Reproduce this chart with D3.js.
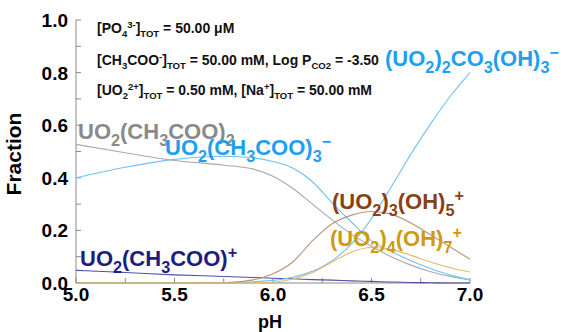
<!DOCTYPE html>
<html>
<head>
<meta charset="utf-8">
<script src="https://cdn.jsdelivr.net/npm/d3@7"></script>
<style>
  body { margin: 0; background: #fff; }
  text { font-family: 'Liberation Sans', Arial, sans-serif; font-weight: bold; }
</style>
</head>
<body>
<div id="chart"></div>
<script>
// pH grid shared by every species
const pH = [5.0, 5.25, 5.5, 5.75, 5.9, 6.0, 6.1, 6.2, 6.3, 6.4, 6.5, 6.6, 6.7, 6.8, 6.9, 7.0];

// fractions
const acetate2 = [0.527, 0.495, 0.466, 0.448, 0.433, 0.406, 0.36, 0.30, 0.24, 0.185, 0.14, 0.10, 0.068, 0.043, 0.025, 0.012];
const acetate3 = [0.40, 0.44, 0.47, 0.482, 0.476, 0.462, 0.437, 0.385, 0.305, 0.23, 0.16, 0.12, 0.085, 0.055, 0.03, 0.012];
const acetate1 = [0.048, 0.04, 0.031, 0.025, 0.021, 0.018, 0.016, 0.013, 0.011, 0.008, 0.006, 0.004, 0.002, 0.001, 0.0, 0.0];
const carbonate = [0, 0, 0, 0.001, 0.005, 0.01, 0.022, 0.045, 0.085, 0.15, 0.245, 0.365, 0.49, 0.605, 0.71, 0.80];
const trimer = [0, 0, 0, 0.001, 0.012, 0.035, 0.08, 0.16, 0.225, 0.258, 0.272, 0.262, 0.228, 0.183, 0.137, 0.09];
const tetramer = [0, 0, 0, 0, 0, 0.003, 0.015, 0.04, 0.08, 0.118, 0.135, 0.127, 0.105, 0.08, 0.058, 0.042];

const xTicks = [5.0, 5.5, 6.0, 6.5, 7.0];
const yTicks = [0.0, 0.2, 0.4, 0.6, 0.8, 1.0];

const species = [
  { values: acetate2, line: '#a9a9a9', color: '#8a8a8a', label: 'UO_{2}(CH_{3}COO)_{2}', x: 78, y: 139 },
  { values: acetate3, line: '#72c2ee', color: '#1e9ff0', label: 'UO_{2}(CH_{3}COO)_{3}^{\u2212}', x: 165, y: 155 },
  { values: acetate1, line: '#5050a8', color: '#1c1c82', label: 'UO_{2}(CH_{3}COO)^{+}', x: 80, y: 266 },
  { values: carbonate, line: '#72c2ee', color: '#1e9ff0', label: '(UO_{2})_{2}CO_{3}(OH)_{3}^{\u2212}', x: 385, y: 66 },
  { values: trimer, line: '#bb9378', color: '#8b3f12', label: '(UO_{2})_{3}(OH)_{5}^{+}', x: 332, y: 209 },
  { values: tetramer, line: '#e2bb66', color: '#cf9a12', label: '(UO_{2})_{4}(OH)_{7}^{+}', x: 330, y: 246 }
];

const notes = [
  { text: '[PO_{4}^{3-}]_{TOT} = 50.00 \u03bcM', y: 33 },
  { text: '[CH_{3}COO^{-}]_{TOT} = 50.00 mM, Log P_{CO2} = -3.50', y: 65 },
  { text: '[UO_{2}^{2+}]_{TOT} = 0.50 mM, [Na^{+}]_{TOT} = 50.00 mM', y: 95 }
];

const leftMargin = 76;
const topMargin = 20;
const svgWidth = 394;
const svgHeight = 263;

const svg = d3
  .select('#chart')
  .append('svg')
  .attr('width', 563)
  .attr('height', 332);

const g = svg
  .append('g')
  .attr('transform', 'translate(' + leftMargin + ',' + topMargin + ')');

const x = d3.scaleLinear().domain([5, 7]).range([0, svgWidth]);
const y = d3.scaleLinear().domain([0, 1]).range([svgHeight, 0]);

// write a formula with _{sub} and ^{sup} parts as tspans
function chem(sel, str, size, ratio) {
  const re = /(_|\^)\{([^}]*)\}|([^_^]+)/g;
  let m;
  let shift = 0;
  while ((m = re.exec(str)) !== null) {
    let target = 0;
    let fs = size;
    let txt = m[3];
    if (m[1] === '_') { target = size * 0.3; fs = size * ratio; txt = m[2]; }
    if (m[1] === '^') { target = -size * 0.38; fs = size * ratio; txt = m[2]; }
    sel.append('tspan')
      .attr('dy', target - shift)
      .style('font-size', fs + 'px')
      .text(txt);
    shift = target;
  }
}

// axes lines
g.append('line')
  .attr('x1', 0).attr('x2', 0).attr('y1', 0).attr('y2', svgHeight)
  .attr('stroke', '#8a8a8a');
g.append('line')
  .attr('x1', 0).attr('x2', svgWidth).attr('y1', svgHeight).attr('y2', svgHeight)
  .attr('stroke', '#8a8a8a');

// inward ticks
g.selectAll('.ytick')
  .data(d3.range(0, 1.01, 0.1))
  .enter()
  .append('line')
  .attr('x1', 0).attr('x2', 5)
  .attr('y1', (d) => y(d)).attr('y2', (d) => y(d))
  .attr('stroke', '#8a8a8a');
g.selectAll('.xtick')
  .data(d3.range(5, 7.01, 0.25))
  .enter()
  .append('line')
  .attr('x1', (d) => x(d)).attr('x2', (d) => x(d))
  .attr('y1', svgHeight).attr('y2', svgHeight - 5)
  .attr('stroke', '#8a8a8a');

// tick labels
g.selectAll('.ylab')
  .data(yTicks)
  .enter()
  .append('text')
  .attr('x', -8)
  .attr('y', (d) => y(d) + 7)
  .attr('text-anchor', 'end')
  .style('font-size', '19px')
  .text((d) => d.toFixed(1));
g.selectAll('.xlab')
  .data(xTicks)
  .enter()
  .append('text')
  .attr('x', (d) => x(d))
  .attr('y', svgHeight + 18)
  .attr('text-anchor', 'middle')
  .style('font-size', '19px')
  .text((d) => d.toFixed(1));

// axis titles
g.append('text')
  .attr('x', svgWidth / 2 - 3)
  .attr('y', svgHeight + 45)
  .attr('text-anchor', 'middle')
  .style('font-size', '18px')
  .text('pH');
g.append('text')
  .attr('transform', 'translate(-55,' + 134 + ') rotate(-90)')
  .attr('text-anchor', 'middle')
  .style('font-size', '21px')
  .text('Fraction');

// curves
const line = d3
  .line()
  .x((d) => x(d[0]))
  .y((d) => y(d[1]))
  .curve(d3.curveMonotoneX);

species.forEach((s) => {
  g.append('path')
    .datum(pH.map((p, i) => [p, s.values[i]]))
    .attr('d', line)
    .attr('fill', 'none')
    .attr('stroke', s.line)
    .attr('stroke-width', 1.1);
});

// species labels
species.forEach((s) => {
  const t = svg.append('text')
    .attr('x', s.x)
    .attr('y', s.y)
    .style('fill', s.color);
  chem(t, s.label, 22, 0.74);
});

// condition notes
notes.forEach((n) => {
  const t = svg.append('text')
    .attr('x', 97)
    .attr('y', n.y)
    .style('fill', '#111');
  chem(t, n.text, 14, 0.68);
});
</script>
</body>
</html>
